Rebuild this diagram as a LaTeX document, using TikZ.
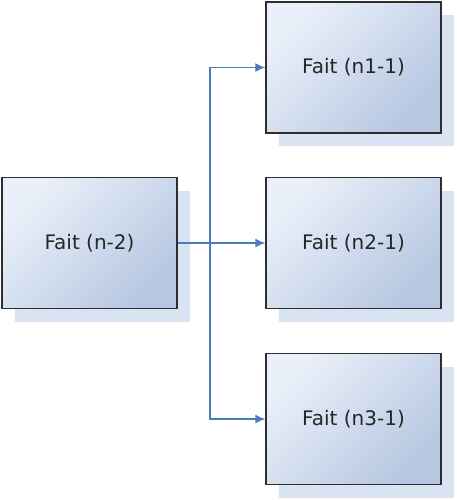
\documentclass[tikz,border=0pt]{standalone}
\usepackage{fontspec}
\setmainfont{DejaVu Sans}
\usepackage{tikz}
\usetikzlibrary{arrows.meta,shadows}

\definecolor{boxlight}{HTML}{EAF0F9}
\definecolor{boxdark}{HTML}{B6C7E1}
\definecolor{boxshadow}{HTML}{DAE3F1}
\definecolor{linkblue}{HTML}{4A7BBF}
\definecolor{boxline}{HTML}{2E2E2E}

\begin{document}
\begin{tikzpicture}[x=1pt,y=-1pt,
    fait/.style={draw=boxline, line width=1.3pt, minimum width=175pt, minimum height=131pt,
        top color=boxlight, bottom color=boxdark, shading angle=45,
        drop shadow={shadow xshift=13pt, shadow yshift=-13pt, fill=boxshadow, opacity=1},
        font=\fontsize{20}{24}\selectfont, text=black!85},
    link/.style={draw=linkblue, line width=1.6pt},
    tip/.style={-{Latex[length=10pt,width=9pt]}}]
    \useasboundingbox (0,0) rectangle (456,500);
    \node[fait] (n2) at (89.5,243) {Fait (n-2)};
    \node[fait] (n11) at (353.5,67.5) {Fait (n1-1)};
    \node[fait] (n21) at (353.5,243) {Fait (n2-1)};
    \node[fait] (n31) at (353.5,419) {Fait (n3-1)};
    \coordinate (split) at (210,243);
    \draw[link] (n2) -- (split);
    \draw[link,tip] (split) |- (n11);
    \draw[link,tip] (split) -- (n21);
    \draw[link,tip] (split) |- (n31);
\end{tikzpicture}
\end{document}
